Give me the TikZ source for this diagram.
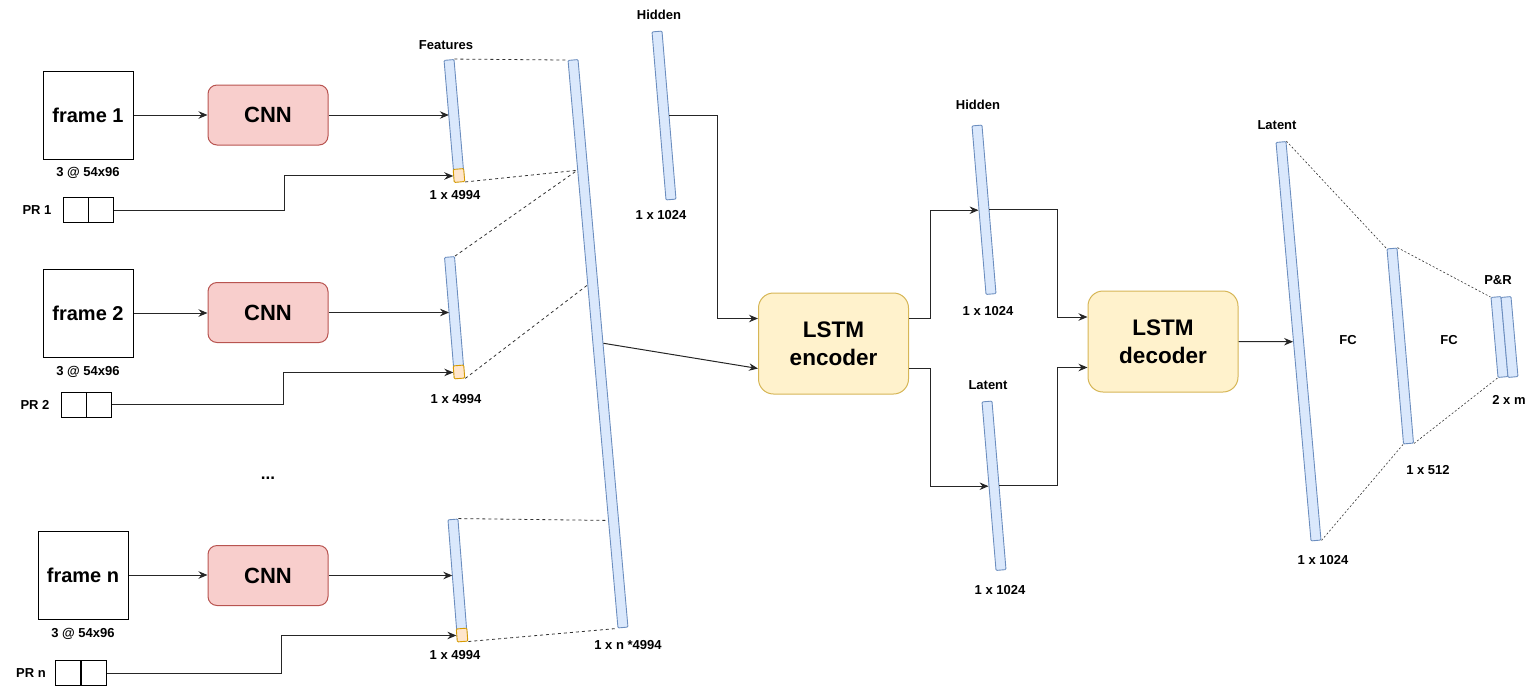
\documentclass[tikz,border=0pt]{standalone}
\usepackage{fontspec}
\setmainfont{Liberation Sans}
\usetikzlibrary{calc,arrows.meta}
\definecolor{barfill}{HTML}{DAE8FC}
\definecolor{barline}{HTML}{6C8EBF}
\definecolor{orfill}{HTML}{FFE6CC}
\definecolor{orline}{HTML}{D79B00}
\definecolor{cnnfill}{HTML}{F8CECC}
\definecolor{cnnline}{HTML}{B85450}
\definecolor{lstmfill}{HTML}{FFF2CC}
\definecolor{lstmline}{HTML}{D6B656}
\begin{document}
\begin{tikzpicture}[x=1pt,y=-1pt,
 vbar/.style={draw=barline, fill=barfill, line width=0.9pt, minimum width=10pt, inner sep=0pt, rounded corners=1pt},
 orbox/.style={draw=orline, fill=orfill, line width=0.9pt, minimum width=10.5pt, minimum height=13pt, inner sep=0pt, rounded corners=1pt},
 frm/.style={draw=black, line width=1pt, minimum width=90pt, minimum height=88pt, inner sep=0pt, font=\bfseries\fontsize{20}{24}\selectfont},
 cnn/.style={draw=cnnline, fill=cnnfill, rounded corners=9pt, line width=1pt, minimum width=120pt, minimum height=60pt, inner sep=0pt, font=\bfseries\fontsize{22}{26}\selectfont},
 lstm/.style={draw=lstmline, fill=lstmfill, rounded corners=15pt, line width=1pt, minimum width=150pt, minimum height=101pt, inner sep=0pt, align=center, font=\bfseries\fontsize{22.5}{27.5}\selectfont},
 prc/.style={draw=black, line width=1pt, minimum width=25pt, minimum height=25pt, inner sep=0pt},
 lbl/.style={font=\bfseries\fontsize{13}{15}\selectfont, inner sep=0pt},
 arr/.style={-{Stealth[length=9pt,width=7.5pt,inset=3pt]}, line width=1pt, draw=black!85},
 dsh/.style={dash pattern=on 3pt off 3pt, line width=0.8pt, draw=black!80},
 fcdash/.style={dash pattern=on 2pt off 2pt, line width=0.6pt, draw=black!80}]
\useasboundingbox (0,0) rectangle (1540,689);

% frames and CNNs
\node[frm] (fr1) at (88,115) {frame 1};
\node[frm] (fr2) at (88,313) {frame 2};
\node[frm] (frn) at (83,575) {frame n};
\node[cnn] (cnn1) at (268,115) {CNN};
\node[cnn] (cnn2) at (268,312.5) {CNN};
\node[cnn] (cnnn) at (268,575.5) {CNN};
\node[lbl] (d1) at (88,173) {3 @ 54x96};
\node[lbl] (d2) at (88,372) {3 @ 54x96};
\node[lbl] (dn) at (83,634) {3 @ 54x96};

% PR boxes
\node[prc] (pr1a) at (75.5,210) {};
\node[prc] (pr1b) at (100.5,210) {};
\node[prc] (pr2a) at (73.5,404.5) {};
\node[prc] (pr2b) at (98.5,404.5) {};
\node[prc] (prna) at (68,673) {};
\node[prc] (prnb) at (93.5,673) {};
\node[lbl] (pl1) at (37,210) {PR 1};
\node[lbl] (pl2) at (35,405) {PR 2};
\node[lbl] (pln) at (31,673) {PR n};
\node[lbl, font=\bfseries\fontsize{17}{20}\selectfont] (dots) at (268,478) {...};

% feature bars
\node[vbar, minimum height=122pt, rotate=4.9] (f1) at (454.25,120.75) {};
\node[vbar, minimum height=121.4pt, rotate=4.7] (f2) at (454.5,317.5) {};
\node[vbar, minimum height=122pt, rotate=4.5] (fn) at (457.75,580.25) {};
\node[orbox, rotate=4.9] (o1) at ($(f1.south)!6.5pt!(f1.north)$) {};
\node[orbox, rotate=4.7] (o2) at ($(f2.south)!6.5pt!(f2.north)$) {};
\node[orbox, rotate=4.5] (on) at ($(fn.south)!6.5pt!(fn.north)$) {};
\node[lbl] (tfeat) at (446,45) {Features};
\node[lbl] (s1) at (455,195) {1 x 4994};
\node[lbl] (s2) at (456,399) {1 x 4994};
\node[lbl] (sn) at (455,655) {1 x 4994};

% concatenated bar
\node[vbar, minimum height=569.7pt, rotate=5.03] (big) at (598,343.75) {};
\node[lbl] (sbig) at (628,645) {1 x n *4994};

% hidden input
\node[vbar, minimum height=168.6pt, rotate=4.76] (h1) at (664,115.5) {};
\node[lbl] (th1) at (659,15) {Hidden};
\node[lbl] (sh1) at (661,215) {1 x 1024};

% LSTM
\node[lstm] (enc) at (833.5,343.5) {LSTM\\encoder};
\node[lstm] (dec) at (1163,341.5) {LSTM\\decoder};

% hidden / latent between
\node[vbar, minimum height=169.1pt, rotate=4.75] (h2) at (984,209.75) {};
\node[lbl] (th2) at (978,105) {Hidden};
\node[lbl] (sh2) at (988,311) {1 x 1024};
\node[vbar, minimum height=169.1pt, rotate=4.75] (l1) at (994,485.75) {};
\node[lbl] (tl1) at (988,385) {Latent};
\node[lbl] (sl1) at (1000,590) {1 x 1024};

% right side
\node[vbar, minimum height=400pt, rotate=5.02] (l2) at (1298.5,341.25) {};
\node[lbl] (tl2) at (1277,125) {Latent};
\node[lbl] (sl2) at (1323,560) {1 x 1024};
\node[vbar, minimum height=195.7pt, rotate=4.84] (fc) at (1400.25,346) {};
\node[lbl] (sfc) at (1428,470) {1 x 512};
\node[vbar, minimum height=80.3pt, rotate=5] (pa) at (1499.5,337) {};
\node[vbar, minimum height=80.3pt, rotate=5] (pb) at (1509.5,337) {};
\node[lbl] (tpr) at (1498,280) {P\&R};
\node[lbl] (spr) at (1509,400) {2 x m};
\node[lbl] (fc1) at (1348,340) {FC};
\node[lbl] (fc2) at (1449,340) {FC};

% arrows frame -> CNN -> features
\draw[arr] (fr1.east) -- (cnn1.west);
\draw[arr] (fr2.east) -- (fr2.east -| cnn2.west);
\draw[arr] (frn.east) -- (frn.east -| cnnn.west);
\draw[arr] (cnn1.east) -- (cnn1.east -| f1.west);
\draw[arr] (cnn2.east) -- (cnn2.east -| f2.west);
\draw[arr] (cnnn.east) -- (cnnn.east -| fn.west);

% PR lines
\draw[arr] (pr1b.east) -- ++(171,0) |- (o1.west);
\draw[arr] (pr2b.east) -- ++(172,0) |- (o2.west);
\draw[arr] (prnb.east) -- ++(175,0) |- (on.west);

% dashed projection lines
\coordinate (bj1) at ($(big.north west)!0.194!(big.south west)$);
\coordinate (bj2) at ($(big.north west)!0.396!(big.south west)$);
\coordinate (bj3) at ($(big.north west)!0.81!(big.south west)$);
\draw[dsh] (f1.north east) -- (big.north west);
\draw[dsh] (o1.south east) -- (bj1);
\draw[dsh] (f2.north east) -- (bj1);
\draw[dsh] (o2.south east) -- (bj2);
\draw[dsh] (fn.north east) -- (bj3);
\draw[dsh] (on.south east) -- (big.south west);

% into encoder
\coordinate (encin1) at ($(enc.west)+(0,-25)$);
\coordinate (encin2) at ($(enc.west)+(0,25)$);
\draw[arr] (h1.east) -| ($(encin1)+(-41,0)$) -- (encin1);
\draw[arr] (big.east) -- (encin2);

% out of encoder
\coordinate (encout1) at ($(enc.east)+(0,-25)$);
\coordinate (encout2) at ($(enc.east)+(0,25)$);
\draw[arr] (encout1) -- ++(21,0) |- (h2.west);
\draw[arr] (encout2) -- ++(21,0) |- (l1.west);

% into decoder
\coordinate (decin1) at ($(dec.west)+(0,-24.5)$);
\coordinate (decin2) at ($(dec.west)+(0,26)$);
\draw[arr] (h2.east) -| ($(decin1)+(-30,0)$) -- (decin1);
\draw[arr] (l1.east) -| ($(decin2)+(-30,0)$) -- (decin2);
\draw[arr] (dec.east) -- (l2.west);

% FC projections
\draw[fcdash] (l2.north east) -- (fc.north west);
\draw[fcdash] (l2.south east) -- (fc.south west);
\draw[fcdash] (fc.north east) -- (pa.north west);
\draw[fcdash] (fc.south east) -- (pa.south west);
\end{tikzpicture}
\end{document}
